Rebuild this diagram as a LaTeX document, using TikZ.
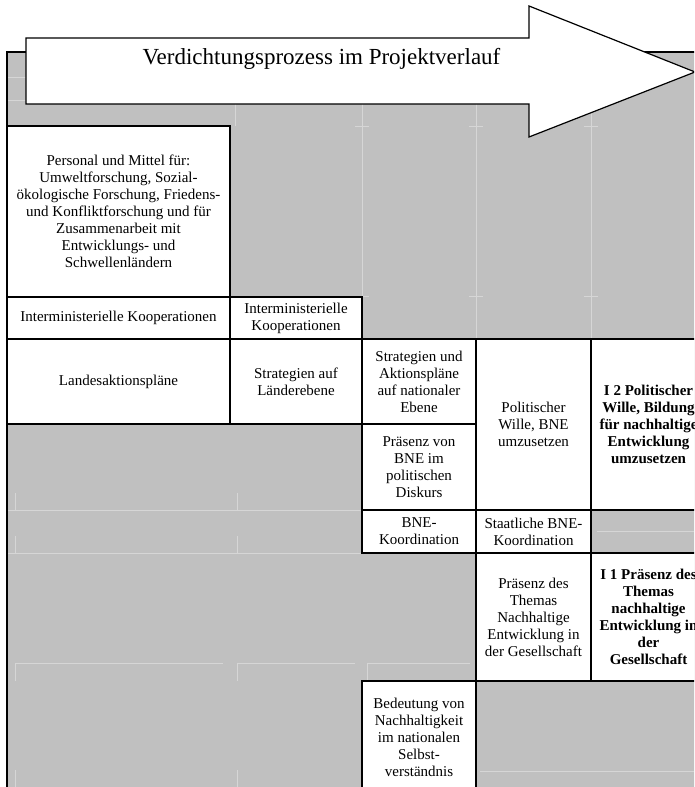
\documentclass[tikz,border=0pt]{standalone}
\usepackage{fontspec}
\setmainfont{Liberation Serif}
\newcommand\cellfont{\fontsize{11.25pt}{12.75pt}\selectfont}
\newcommand\titlefont{\fontsize{17.25pt}{20pt}\selectfont}
\definecolor{bggray}{HTML}{C0C0C0}
\definecolor{faintline}{HTML}{D6D6D6}
\tikzset{
  cell/.style={draw=black, line width=0.9pt, fill=white, inner sep=0pt, align=center, font=\cellfont},
  boldcell/.style={cell, font=\cellfont\bfseries},
  faint/.style={draw=faintline, line width=0.5pt},
  frame/.style={draw=black, line width=1.1pt},
  bigarrow/.style={draw=black, line width=0.9pt, fill=white, line join=miter},
}
% \cellnode{name}{style}{x0}{y0}{x1}{y1}{text}  (pixel units, y downward)
\newcommand\cellnode[7]{%
  \pgfmathsetmacro\cwd{(#5-#3)*0.75}%
  \pgfmathsetmacro\cht{(#6-#4)*0.75}%
  \pgfmathsetmacro\cx{(#3+#5)/2}%
  \pgfmathsetmacro\cy{(#4+#6)/2}%
  \node[#2, minimum width=\cwd pt, minimum height=\cht pt] (#1) at (\cx,\cy) {#7};}
\begin{document}
\begin{tikzpicture}[x=0.75pt,y=-0.75pt]
\useasboundingbox (0,0) rectangle (694,787);
\clip (0,0) rectangle (694,787);
% gray background area
\fill[bggray] (7,52) rectangle (720,800);
% faint remains of the hidden table lines
\foreach \xx in {362,476,591} {\draw[faint] (\xx,52) -- (\xx,339);}
\foreach \xx in {355,469,584} {\draw[faint] (\xx,126) -- (\xx+14,126); \draw[faint] (\xx,296) -- (\xx+14,296);}
\draw[faint] (235,104) -- (235,126);
\draw[faint] (7,77) -- (26,77);
\draw[faint] (7,100) -- (26,100);
\draw[faint] (7,510) -- (362,510);
\draw[faint] (7,553) -- (362,553);
\draw[faint] (15,663) -- (223,663);
\draw[faint] (237,663) -- (355,663);
\draw[faint] (367,663) -- (470,663);
\draw[faint] (480,771) -- (694,771);
\draw[faint] (597,531) -- (694,531);
\foreach \xx in {15,237} {
  \draw[faint] (\xx,493) -- (\xx,510);
  \draw[faint] (\xx,536) -- (\xx,553);
  \draw[faint] (\xx,663) -- (\xx,681);
  \draw[faint] (\xx,770) -- (\xx,787);}
\draw[faint] (367,663) -- (367,681);
% black frame of the gray area
\draw[frame] (7,52) -- (720,52);
\draw[draw=black, line width=1.8pt] (7,51.4) -- (7,800);
% cells
\cellnode{personal}{cell}{7}{126}{230}{297}{Personal und Mittel für:\\Umweltforschung, Sozial-\\ökologische Forschung, Friedens-\\und Konfliktforschung und für\\Zusammenarbeit mit\\Entwicklungs- und\\Schwellenländern}
\cellnode{imkA}{cell}{7}{297}{230}{339}{Interministerielle Kooperationen}
\cellnode{imkB}{cell}{230}{297}{362}{339}{Interministerielle\\Kooperationen}
\cellnode{lap}{cell}{7}{339}{230}{424}{Landesaktionspläne}
\cellnode{sle}{cell}{230}{339}{362}{424}{Strategien auf\\Länderebene}
\cellnode{sap}{cell}{362}{339}{476}{424}{Strategien und\\Aktionspläne\\auf nationaler\\Ebene}
\cellnode{pw}{cell}{476}{339}{591}{510}{Politischer\\Wille, BNE\\umzusetzen}
\cellnode{itwo}{boldcell}{591}{339}{706}{510}{I 2 Politischer\\Wille, Bildung\\für nachhaltige\\Entwicklung\\umzusetzen}
\cellnode{pbne}{cell}{362}{424}{476}{510}{Präsenz von\\BNE im\\politischen\\Diskurs}
\cellnode{bnek}{cell}{362}{510}{476}{553}{BNE-\\Koordination}
\cellnode{sbnek}{cell}{476}{510}{591}{553}{Staatliche BNE-\\Koordination}
\cellnode{pthem}{cell}{476}{553}{591}{681}{Präsenz des\\Themas\\Nachhaltige\\Entwicklung in\\der Gesellschaft}
\cellnode{ione}{boldcell}{591}{553}{706}{681}{I 1 Präsenz des\\Themas\\nachhaltige\\Entwicklung in\\der\\Gesellschaft}
\cellnode{bed}{cell}{362}{681}{476}{793}{Bedeutung von\\Nachhaltigkeit\\im nationalen\\Selbst-\\verständnis}
% big arrow
\draw[bigarrow] (26,38) -- (529,38) -- (529,6) -- (695,72) -- (529,137) -- (529,104) -- (26,104) -- cycle;
\node[font=\titlefont, inner sep=0pt] (title) at (321.5,59) {Verdichtungsprozess im Projektverlauf};
\end{tikzpicture}
\end{document}
